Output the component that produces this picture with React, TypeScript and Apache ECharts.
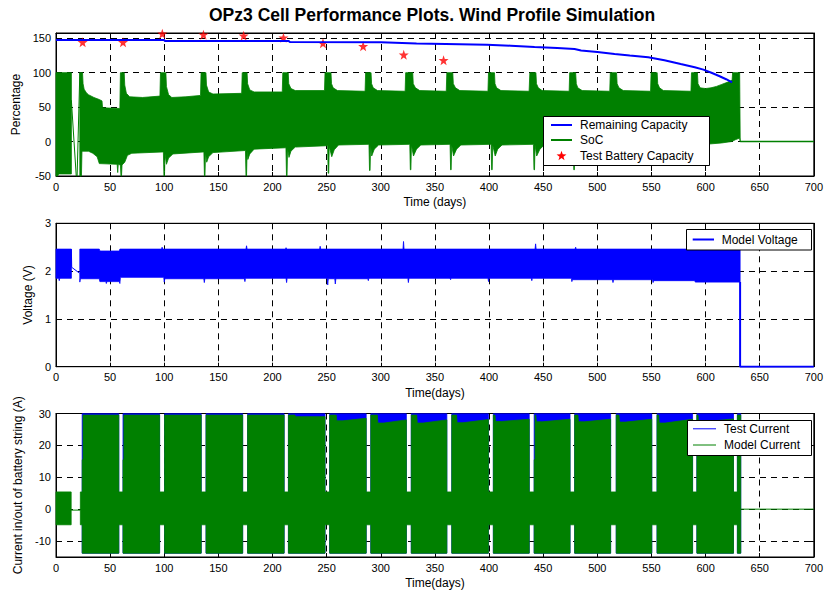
import React, { useEffect, useRef } from "react";
import * as echarts from "echarts";

const FONT = '"Liberation Sans", Arial, Helvetica, sans-serif';
const BLUE = "#0000ff";
const GREEN = "#008000";
const RED = "#ff0000";

const TITLE = "OPz3 Cell Performance Plots. Wind Profile Simulation";

// ---------------- Top panel: capacity / SoC ----------------
const capDays = [0, 100, 100.5, 215, 216, 300, 333, 360, 398, 420, 442, 463, 479, 485, 500, 516, 530, 547, 562, 577, 590, 598, 606, 613, 619, 624.5];
const capVals = [147.5, 147.5, 146, 146, 144.6, 144.3, 142.5, 141.8, 140.7, 139.2, 137.3, 135.9, 134.4, 132.2, 130, 127.2, 125, 122.4, 118, 112.6, 108, 104.4, 99.5, 94.8, 90.5, 86];

const starDays = [24.6, 61.9, 98.2, 136.2, 173.3, 210.1, 246.6, 283.7, 321.2, 358];
const starVals = [144.1, 144.1, 156.6, 155.2, 153.7, 150.8, 142.7, 138.3, 126.1, 118.0];

const socFirstTop = [[0, 100], [14.2, 100]];
const socFirstBot = [[0, -50], [1.5, -50], [2.5, -47], [14.2, -47]];
const socTop = [
  [22, 100], [24.5, 100], [25, 84], [26, 76], [28, 71], [30, 68], [35, 64], [40, 61], [42.5, 59], [43, 49], [59, 48],
  [59.5, 100], [63, 100], [63.5, 82], [65, 70], [68, 65], [80, 64], [96, 66],
  [96.5, 100], [101.5, 100], [102, 80], [104, 68], [107, 64], [120, 65], [133.5, 67],
  [134, 100], [138.5, 100], [139, 82], [141, 72], [145, 69], [171.5, 70],
  [172, 100], [176.5, 100], [177, 84], [179, 75], [183, 72], [209, 72],
  [209.5, 100], [214.5, 100], [215, 84], [217, 77], [221, 74], [248, 74],
  [248.5, 100], [254, 100], [254.5, 84], [256, 78], [260, 74], [285.5, 73],
  [286, 100], [291, 100], [291.5, 84], [293, 78], [297, 74], [322.5, 73],
  [323, 100], [329.5, 100], [330, 84], [332, 78], [336, 74], [360.5, 73],
  [361, 100], [366.5, 100], [367, 84], [369, 78], [373, 74], [399, 73],
  [399.5, 100], [405, 100], [405.5, 84], [407, 78], [411, 74], [437, 73],
  [437.7, 100], [443.3, 100], [443.8, 84], [445.5, 78], [449, 74], [474, 73],
  [474.5, 100], [480, 100], [480.6, 84], [482, 78], [486, 74], [511.5, 73],
  [512, 100], [517.8, 100], [518.3, 84], [520, 78], [524, 74], [549.2, 73],
  [549.7, 100], [555.3, 100], [555.8, 84], [557.5, 78], [561, 74], [586.5, 73],
  [587, 100], [592.5, 100], [593, 84], [595, 78], [600, 77], [605, 78], [610, 80], [615, 83], [620, 86], [624.5, 89],
  [625, 100], [631.5, 100], [632, 0],
];
const socBot = [
  [22, -50], [23.5, -50], [24, -14], [30, -14], [34, -17], [38, -22], [40, -32], [56.5, -33], [57, -45], [57.5, -33],
  [59.5, -34], [60, -50], [60.5, -50], [61, -34], [63.5, -30], [66, -20], [70, -17],
  [99.2, -15], [99.7, -50], [100.2, -50], [100.7, -18], [102, -33], [104, -24], [108, -18],
  [136.6, -15], [137.1, -50], [137.6, -50], [138.1, -16], [139.2, -30], [141, -22], [145, -16],
  [175, -13], [175.5, -50], [176, -50], [176.5, -14], [177.2, -26], [179, -18], [183, -11],
  [212.4, -9], [212.9, -50], [213.4, -50], [213.9, -10], [215.2, -23], [217, -14], [221, -8],
  [250.9, -6], [251.4, -46], [251.9, -46], [252.4, -7], [254.7, -22], [257, -12], [261, -5],
  [289.1, -4], [289.6, -42], [290.1, -42], [290.6, -5], [291.6, -21], [294, -11], [298, -5],
  [326.8, -4], [327.3, -41], [327.8, -41], [328.3, -5], [330.2, -21], [333, -11], [337, -5],
  [364, -4], [364.5, -41], [365, -41], [365.5, -5], [367.2, -21], [370, -11], [374, -5],
  [401.9, -4], [402.4, -41], [402.9, -41], [403.4, -5], [405.7, -21], [408, -11], [412, -5],
  [441, -4], [441.5, -41], [442, -41], [442.5, -5], [444, -21], [447, -11], [451, -5],
  [477.8, -4], [478.3, -41], [478.8, -41], [479.3, -5], [480.8, -21], [483, -11], [487, -5],
  [514.5, -4], [515, -30], [515.5, -30], [516, -5], [518.5, -21], [521, -11], [525, -5],
  [552, -4], [552.5, -30], [553, -30], [553.5, -5], [556, -21], [559, -11], [563, -5],
  [589.5, -4], [590, -30], [590.5, -30], [591, -5], [593.2, -21], [596, -11], [600, -4],
  [615, -2], [624, 0], [628, 3], [631.5, 5], [632, 0],
];
const socSpikeLine = [[14.2, 60], [18.7, -50], [19.5, -50], [22, 100]];
const socTail = [[632, 0], [700, 0]];

// ---------------- Middle panel: voltage ----------------
const voltFirstTop = [[0, 2.46], [14.2, 2.46]];
const voltFirstBot = [[0, 1.85], [2.5, 1.85], [3, 1.8], [3.5, 1.85], [14.2, 1.85]];
const voltTop = [
  [22, 2.46], [40, 2.46], [40.5, 2.42], [58.5, 2.42], [59, 2.46], [97.5, 2.46], [98, 2.5], [98.5, 2.46],
  [175.5, 2.46], [176, 2.53], [176.5, 2.46], [212, 2.46], [212.5, 2.49], [213, 2.46], [243.5, 2.46], [244, 2.52],
  [244.5, 2.46], [320.5, 2.46], [321, 2.62], [321.5, 2.46], [442.5, 2.46], [443, 2.57], [443.5, 2.46],
  [479.5, 2.46], [480, 2.5], [480.5, 2.46], [631.9, 2.46],
];
const voltBot = [
  [22, 1.77], [22.5, 1.84], [40, 1.84], [40.5, 1.78], [46, 1.78], [46.5, 1.74], [47, 1.78], [58.5, 1.78], [59, 1.74],
  [59.5, 1.87], [99.5, 1.87], [100, 1.77], [100.5, 1.84], [136.5, 1.84], [137, 1.76], [137.5, 1.84], [174, 1.84],
  [174.5, 1.78], [175, 1.85], [212.5, 1.85], [213, 1.76], [213.5, 1.85], [250.5, 1.85], [251, 1.71], [251.5, 1.84],
  [257.5, 1.84], [258, 1.73], [258.5, 1.84], [288, 1.84], [288.5, 1.8], [289, 1.85], [325, 1.85], [325.5, 1.76],
  [326, 1.85], [364, 1.85], [364.5, 1.82], [365, 1.85], [399, 1.85], [399.5, 1.78], [400, 1.85], [439, 1.85],
  [439.5, 1.8], [440, 1.85], [476, 1.85], [476.5, 1.78], [477, 1.82], [514, 1.82], [514.5, 1.76], [515, 1.82],
  [551, 1.82], [551.5, 1.76], [552, 1.8], [590, 1.8], [590.5, 1.77], [631.9, 1.77],
];
const voltDropLine = [[14.2, 2.46], [14.5, 2.08], [21.5, 1.96]];
const voltTail = [[631.9, 1.77], [631.9, 0], [700, 0]];

// ---------------- Bottom panel: current ----------------
const curTicks = [-10, 0, 10, 20, 30];
const curStart = [24.2, 61.9, 100.3, 138.6, 177.0, 214.7, 252.8, 290.8, 328.2, 365.6, 404.0, 441.7, 479.1, 517.5, 555.2, 592.0, 629.4];
const curEnd = [58.0, 95.7, 134.1, 172.4, 210.7, 248.5, 286.5, 323.6, 361.0, 399.4, 437.1, 474.8, 512.3, 550.3, 588.0, 625.8, 632.5];
const curNotch = [15.5, 15.5, 29.5, 29.5, 29.5, 29.5, 29.5, 29.5, 29.5, 29.5, 29.5, 15.5, 29.5, 29.5, 29.5, 29.5, 29.5];
const curHold = [0, 0, 0, 0, 0, 6, 6, 6, 5, 4.4, 1.5, 1.5, 3, 2.5, 1.5, 1, 0];
const curDip = [29.5, 29.5, 29.5, 29.5, 29.5, 29.0, 27.7, 27.0, 27.0, 27.1, 27.5, 27.4, 27.4, 27.3, 27.0, 27.4, 29.5];
const curEndTop = [29.5, 29.5, 29.5, 29.5, 29.5, 29.0, 28.5, 28.0, 28.0, 28.1, 28.2, 28.2, 28.2, 28.2, 28.2, 28.3, 29.5];
const CUR_TEST_TOP = 29.9;
const CUR_MODEL_TOP = 29.5;
const CUR_BOTTOM = -13.8;
const GAP_TOP = 5.4;
const GAP_BOTTOM = -4.9;
const curFirstTop = [[0, 5.4], [14, 5.4]];
const curFirstBot = [[0, -4.9], [14, -4.9]];
const curFlatLine = [[14, -0.3], [22.5, -0.3]];
const curTail = [[632.5, 0], [700, 0]];

type Seg = { top: number[][]; bot: number[][] };

function buildModelBand(): Seg {
  const top: number[][] = [[22.5, GAP_TOP]];
  const bot: number[][] = [[22.5, GAP_BOTTOM]];
  const n = curStart.length;
  for (let i = 0; i < n; i++) {
    const s = curStart[i];
    const e = curEnd[i];
    top.push([s, GAP_TOP], [s, curNotch[i]], [s + 0.8, curNotch[i]], [s + 0.8, CUR_MODEL_TOP]);
    if (curDip[i] < CUR_MODEL_TOP) {
      if (curHold[i] > 0.8) top.push([s + curHold[i], CUR_MODEL_TOP]);
      const h = Math.max(curHold[i], 0.8);
      top.push([s + h + 0.5, curDip[i]], [s + h + 6, curDip[i]]);
    }
    top.push([e, curEndTop[i]]);
    bot.push([s, GAP_BOTTOM], [s, CUR_BOTTOM], [e, CUR_BOTTOM]);
    if (i < n - 1) {
      top.push([e, GAP_TOP]);
      bot.push([e, GAP_BOTTOM]);
    }
  }
  return { top, bot };
}

function buildTestBlocks(): Seg[] {
  return curStart.map((s, i) => ({
    top: [[s, CUR_TEST_TOP], [curEnd[i], CUR_TEST_TOP]],
    bot: [[s, CUR_BOTTOM], [curEnd[i], CUR_BOTTOM]],
  }));
}

function bandSeries(name: string, idx: number, color: string, segs: Seg[]) {
  return {
    type: "custom",
    name,
    xAxisIndex: idx,
    yAxisIndex: idx,
    silent: true,
    dimensions: ["x", "y", "seg"],
    encode: { x: "x", y: "y" },
    data: segs.map((sg, i) => [sg.top[0][0], sg.top[0][1], i]),
    renderItem: (_params: any, api: any) => {
      const sg = segs[api.value(2)];
      const pts: number[][] = [];
      for (let k = 0; k < sg.top.length; k++) pts.push(api.coord(sg.top[k]));
      for (let k = sg.bot.length - 1; k >= 0; k--) pts.push(api.coord(sg.bot[k]));
      return {
        type: "polygon",
        shape: { points: pts },
        style: { fill: color, stroke: color, lineWidth: 0.8, lineJoin: "bevel" },
      };
    },
  };
}

function lineSeries(name: string, idx: number, color: string, width: number, data: number[][]) {
  return {
    type: "line",
    name,
    xAxisIndex: idx,
    yAxisIndex: idx,
    data,
    symbol: "none",
    showSymbol: false,
    silent: true,
    lineStyle: { color, width },
    itemStyle: { color },
  };
}

const STAR_PATH =
  "path://M0,-10 L2.35,-3.24 L9.51,-3.09 L3.8,1.24 L5.88,8.09 L0,4 L-5.88,8.09 L-3.8,1.24 L-9.51,-3.09 L-2.35,-3.24 Z";

const GRID_LEFT = 56;
const GRID_WIDTH = 761;
const grids = [
  { top: 33, height: 143 },
  { top: 223.3, height: 143.4 },
  { top: 413.5, height: 143.5 },
];

const DASH = [6, 5];

function xAxis(gridIndex: number, name: string) {
  return {
    type: "value",
    gridIndex,
    min: 0,
    max: 700,
    interval: 50,
    name,
    nameLocation: "middle",
    nameGap: 20,
    nameTextStyle: { color: "#000", fontSize: 12, fontFamily: FONT },
    axisLine: { show: true, onZero: false, lineStyle: { color: "#000", width: 1 } },
    axisTick: { show: true, inside: true, length: 4, lineStyle: { color: "#000" } },
    axisLabel: { color: "#000", fontSize: 11, fontFamily: FONT, margin: 5 },
    splitLine: { show: true, lineStyle: { color: "#000", type: DASH, width: 1 } },
  };
}

function xAxisTop(gridIndex: number) {
  return {
    type: "value",
    gridIndex,
    position: "top",
    min: 0,
    max: 700,
    interval: 50,
    axisLine: { show: true, onZero: false, lineStyle: { color: "#000", width: 1 } },
    axisTick: { show: true, inside: true, length: 4, lineStyle: { color: "#000" } },
    axisLabel: { show: false },
    splitLine: { show: false },
  };
}

function yAxis(
  gridIndex: number,
  name: string,
  min: number,
  max: number,
  interval: number,
  gap: number,
  showMax: boolean,
  custom?: number[]
) {
  const ax: any = {
    type: "value",
    gridIndex,
    min,
    max,
    interval,
    name,
    nameLocation: "middle",
    nameRotate: 90,
    nameGap: gap,
    nameTextStyle: { color: "#000", fontSize: 12, fontFamily: FONT },
    axisLine: { show: true, onZero: false, lineStyle: { color: "#000", width: 1 } },
    axisTick: { show: true, inside: true, length: 4, lineStyle: { color: "#000" } },
    axisLabel: {
      color: "#000",
      fontSize: 11,
      fontFamily: FONT,
      margin: 5,
      showMaxLabel: showMax,
      showMinLabel: true,
      formatter: (v: number) => String(Math.round(v)),
    },
    splitLine: { show: true, lineStyle: { color: "#000", type: DASH, width: 1 } },
  };
  if (custom) {
    ax.axisTick.customValues = custom;
    ax.axisLabel.customValues = custom;
  }
  return ax;
}

function yAxisRight(gridIndex: number, min: number, max: number, interval: number, custom?: number[]) {
  const ax: any = {
    type: "value",
    gridIndex,
    position: "right",
    min,
    max,
    interval,
    axisLine: { show: true, onZero: false, lineStyle: { color: "#000", width: 1 } },
    axisTick: { show: true, inside: true, length: 4, lineStyle: { color: "#000" } },
    axisLabel: { show: false },
    splitLine: { show: false },
  };
  if (custom) ax.axisTick.customValues = custom;
  return ax;
}

function starPoints(cx: number, cy: number, r: number) {
  const pts: number[][] = [];
  for (let k = 0; k < 10; k++) {
    const a = -Math.PI / 2 + (k * Math.PI) / 5;
    const rr = k % 2 === 0 ? r : r * 0.4;
    pts.push([cx + rr * Math.cos(a), cy + rr * Math.sin(a)]);
  }
  return pts;
}

function txt(text: string, x: number, y: number) {
  return {
    type: "text",
    x,
    y,
    z: 100,
    silent: true,
    style: {
      text,
      fill: "#000",
      font: `12px ${FONT}`,
      textAlign: "left",
      textVerticalAlign: "middle",
      align: "left",
      verticalAlign: "middle",
    },
  };
}

function lg(x1: number, x2: number, y: number, color: string, width: number) {
  return {
    type: "line",
    z: 100,
    silent: true,
    shape: { x1, y1: y, x2, y2: y },
    style: { stroke: color, lineWidth: width },
  };
}

function box(x: number, y: number, w: number, h: number) {
  return {
    type: "rect",
    z: 99,
    silent: true,
    shape: { x, y, width: w, height: h },
    style: { fill: "#fff", stroke: "#000", lineWidth: 1 },
  };
}

export default function App() {
  const ref = useRef<HTMLDivElement>(null);

  useEffect(() => {
    if (!ref.current) return;
    const chart = echarts.init(ref.current, undefined, { renderer: "svg" });

    const socSegs: Seg[] = [
      { top: socFirstTop, bot: socFirstBot },
      { top: socTop, bot: socBot },
    ];
    const voltSegs: Seg[] = [
      { top: voltFirstTop, bot: voltFirstBot },
      { top: voltTop, bot: voltBot },
    ];
    const modelSegs: Seg[] = [{ top: curFirstTop, bot: curFirstBot }, buildModelBand()];
    const testSegs: Seg[] = buildTestBlocks();

    const option: any = {
      animation: false,
      backgroundColor: "#fff",
      textStyle: { fontFamily: FONT },
      title: {
        text: TITLE,
        left: 209,
        top: 6,
        padding: 0,
        textStyle: { fontSize: 17.5, fontWeight: "bold", color: "#000", fontFamily: FONT },
      },
      grid: grids.map((g) => ({
        left: GRID_LEFT,
        width: GRID_WIDTH,
        top: g.top,
        height: g.height,
        show: true,
        borderColor: "#000",
        borderWidth: 1,
        backgroundColor: "#fff",
        containLabel: false,
      })),
      xAxis: [
        xAxis(0, "Time (days)"),
        xAxis(1, "Time(days)"),
        xAxis(2, "Time(days)"),
        xAxisTop(0),
        xAxisTop(1),
        xAxisTop(2),
      ],
      yAxis: [
        yAxis(0, "Percentage", -50, 157.6, 50, 33, false),
        yAxis(1, "Voltage (V)", 0, 3, 1, 19, true),
        yAxis(2, "Current in/out of battery string (A)", -15, 30, 5, 31, true, curTicks),
        yAxisRight(0, -50, 157.6, 50),
        yAxisRight(1, 0, 3, 1),
        yAxisRight(2, -15, 30, 5, curTicks),
      ],
      series: [
        bandSeries("SoC", 0, GREEN, socSegs),
        lineSeries("SoC", 0, GREEN, 1, socSpikeLine),
        lineSeries("SoC", 0, GREEN, 1.5, socTail),
        lineSeries("Remaining Capacity", 0, BLUE, 2, capDays.map((d, i) => [d, capVals[i]])),
        {
          type: "scatter",
          name: "Test Battery Capacity",
          xAxisIndex: 0,
          yAxisIndex: 0,
          symbol: STAR_PATH,
          symbolSize: 10,
          silent: true,
          itemStyle: { color: RED },
          data: starDays.map((d, i) => [d, starVals[i]]),
        },
        bandSeries("Model Voltage", 1, BLUE, voltSegs),
        lineSeries("Model Voltage", 1, BLUE, 1, voltDropLine),
        lineSeries("Model Voltage", 1, BLUE, 2, voltTail),
        bandSeries("Test Current", 2, BLUE, testSegs),
        bandSeries("Model Current", 2, GREEN, modelSegs),
        lineSeries("Model Current", 2, GREEN, 1, curFlatLine),
        lineSeries("Model Current", 2, GREEN, 1, curTail),
      ],
      graphic: {
        elements: [
          box(543.5, 116.5, 166, 49),
          lg(551, 572, 125, BLUE, 2),
          txt("Remaining Capacity", 580, 125),
          lg(551, 572, 140, GREEN, 2),
          txt("SoC", 580, 140),
          {
            type: "polygon",
            z: 100,
            silent: true,
            shape: { points: starPoints(561.5, 156, 5.2) },
            style: { fill: RED },
          },
          txt("Test Battery Capacity", 580, 156),

          box(686.5, 229.5, 125, 20.5),
          lg(692.7, 714, 239.5, BLUE, 2),
          txt("Model Voltage", 721.7, 239.5),

          box(687.5, 420.5, 124, 35),
          lg(693, 716, 428.8, BLUE, 1),
          txt("Test Current", 724, 428.8),
          lg(693, 716, 445, GREEN, 1),
          txt("Model Current", 724, 445),
        ],
      },
    };

    chart.setOption(option);
    return () => {
      chart.dispose();
    };
  }, []);

  return (
    <div
      ref={ref}
      style={{ position: "fixed", left: 0, top: 0, width: 826, height: 593, background: "#fff" }}
    />
  );
}
